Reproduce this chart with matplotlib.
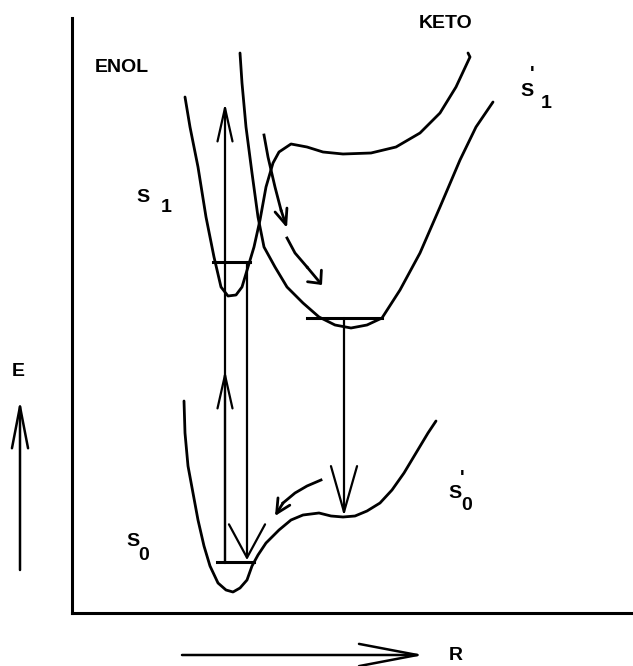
import numpy as np
import matplotlib
matplotlib.use("Agg")
import matplotlib.pyplot as plt

plt.rcParams['font.family'] = ['Liberation Sans', 'DejaVu Sans']

# potential curves, R (reaction coordinate) vs E, arbitrary units
enol_s1_R = [113, 118, 126, 134, 142, 149, 156, 164, 170, 176, 182, 188, 194, 201, 207,
             219, 235, 251, 271, 299, 324, 348, 368, 384, 398, 396]
enol_s1_E = [516, 486, 446, 396, 356, 326, 317, 318, 326, 346, 366, 393, 426, 450, 461,
             469, 466, 461, 459, 460, 466, 480, 500, 526, 556, 560]

keto_s1_R = [168, 170, 174, 180, 186, 192, 203, 215, 231, 247, 263, 279, 295, 310, 328,
             348, 368, 388, 404, 421]
keto_s1_E = [560, 530, 486, 440, 396, 366, 346, 326, 310, 296, 288, 285, 288, 295, 323,
             360, 406, 453, 486, 511]

s0_R = [112, 113, 116, 121, 126, 132, 138, 146, 154, 161, 168, 175, 180, 186, 194, 207,
        219, 231, 247, 259, 271, 283, 295, 308, 320, 332, 344, 356, 364]
s0_E = [212, 180, 147, 120, 93, 67, 47, 30, 23, 21, 25, 33, 47, 58, 70, 83,
        93, 98, 100, 97, 96, 97, 102, 110, 123, 140, 160, 180, 192]

# vibrational levels: (R start, R end, E)
levels = [(141, 178, 351), (235, 310, 295), (145, 182, 51)]

# curved relaxation arrows
relax1_R = [192, 196, 203, 209, 215]
relax1_E = [478, 456, 426, 403, 385]
relax2_R = [215, 223, 235, 250]
relax2_E = [375, 360, 346, 328]
relax3_R = [249, 235, 223, 211, 203]
relax3_E = [133, 127, 120, 110, 97]

# vertical transitions: (R, E tail, E tip)
absorb_R, absorb_E = 153, (50, 510)
absorb_mid_E = 243
enol_emit_R, enol_emit_E = 175, (351, 53)
keto_emit_R, keto_emit_E = 272, (295, 97)


def arrow(ax, tail, tip, hl, hw, lw=1.6):
    ax.annotate("", xy=tip, xytext=tail, annotation_clip=False,
                arrowprops=dict(arrowstyle=f"->,head_length={hl/10},head_width={hw/10}",
                                lw=lw, color="black", shrinkA=0, shrinkB=0,
                                mutation_scale=10))


fig = plt.figure(figsize=(6.33, 6.66), dpi=100)
ax = fig.add_axes([72/633, 53/666, 561/633, 595/666])
ax.set_xlim(0, 561)
ax.set_ylim(0, 595)
for s in ['top', 'right']:
    ax.spines[s].set_visible(False)
for s in ['left', 'bottom']:
    ax.spines[s].set_linewidth(2.2)
ax.set_xticks([])
ax.set_yticks([])

ax.plot(enol_s1_R, enol_s1_E, color="black", lw=2.0, solid_capstyle="round")
ax.plot(keto_s1_R, keto_s1_E, color="black", lw=2.0, solid_capstyle="round")
ax.plot(s0_R, s0_E, color="black", lw=2.0, solid_capstyle="round")

for r0, r1, e in levels:
    ax.plot([r0, r1], [e, e], color="black", lw=2.2)

# absorption (two heads on one line)
arrow(ax, (absorb_R, absorb_E[0]), (absorb_R, absorb_E[1]), 24, 5.4)
arrow(ax, (absorb_R, absorb_E[0]), (absorb_R, absorb_mid_E), 24, 5.4)
# emissions
arrow(ax, (enol_emit_R, enol_emit_E[0]), (enol_emit_R, enol_emit_E[1]), 24, 13)
arrow(ax, (keto_emit_R, keto_emit_E[0]), (keto_emit_R, keto_emit_E[1]), 33, 9.4)

# relaxation arrows
for rr, ee, hl, hw in [(relax1_R, relax1_E, 11, 4.5),
                       (relax2_R, relax2_E, 7, 6.5),
                       (relax3_R, relax3_E, 10, 5)]:
    ax.plot(rr[:-1], ee[:-1], color="black", lw=2.0)
    arrow(ax, (rr[-2], ee[-2]), (rr[-1], ee[-1]), hl, hw, lw=2.0)

# axis arrows
arrow(ax, (-52, 43), (-52, 213), 30, 5.8, lw=1.8)
arrow(ax, (110, -42), (352, -42), 42, 8, lw=1.8)

tkw = dict(fontsize=14, fontweight="bold", ha="center", va="center", clip_on=False)
pkw = dict(tkw, va="bottom")
ax.text(-54, 242, "E", **tkw)
ax.text(384, -42, "R", **tkw)
ax.text(50, 545, "ENOL", **tkw)
ax.text(374, 590, "KETO", **tkw)
ax.text(71, 416, "S", **tkw)
ax.text(94, 406, "1", **tkw)
ax.text(455, 522, "S", **tkw)
ax.text(460, 530, "'", **pkw)
ax.text(474, 509, "1", **tkw)
ax.text(61, 72, "S", **tkw)
ax.text(72, 58, "0", **tkw)
ax.text(383, 119, "S", **tkw)
ax.text(390, 126, "'", **pkw)
ax.text(395, 108, "0", **tkw)

fig.savefig("out.png", dpi=100)
